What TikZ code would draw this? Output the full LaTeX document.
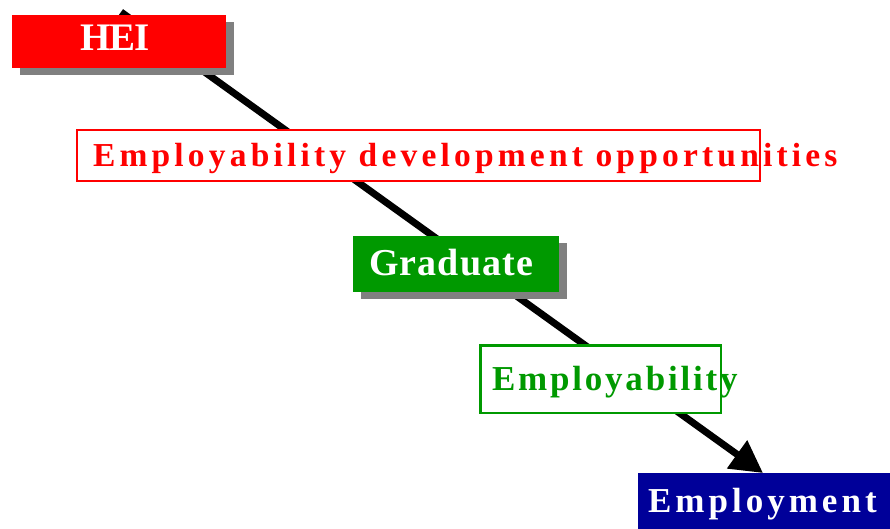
\documentclass[tikz,border=0pt]{standalone}
\usepackage{fontspec}
\setmainfont{Liberation Serif}
\usetikzlibrary{arrows.meta}
\definecolor{heired}{HTML}{FF0000}
\definecolor{gradgreen}{HTML}{009900}
\definecolor{empnavy}{HTML}{000099}
\definecolor{shade}{HTML}{808080}
\newcommand{\lbl}[2]{\fontsize{#1}{#1}\selectfont\bfseries\addfontfeatures{LetterSpace=#2}}
\begin{document}
\begin{tikzpicture}[x=1pt,y=-1pt,
  solidbox/.style={inner sep=0pt,outer sep=0pt,anchor=north west},
  shadowbox/.style={solidbox,fill=shade},
  outlinebox/.style={inner sep=0pt,outer sep=0pt,anchor=north west,fill=white},
  caption/.style={inner sep=0pt,outer sep=0pt,anchor=base west},
  flow/.style={line width=7pt,-{Triangle[length=32pt,width=33pt]}}]
\useasboundingbox (0,0) rectangle (890,529);
\fill[white] (0,0) rectangle (890,529);

% route from the institution down to employment
\coordinate (start) at (121,12);
\coordinate (finish) at (763,473);
\draw[flow] (start) -- (finish);

% HEI
\node[shadowbox,minimum width=214pt,minimum height=53pt] (heishadow) at (20,22) {};
\node[solidbox,fill=heired,minimum width=214pt,minimum height=53pt] (hei) at (12,15) {};
\node[caption,text=white] (heitext) at (80,51) {\lbl{39}{-2}HEI};

% development opportunities
\node[outlinebox,draw=heired,line width=2pt,minimum width=683pt,minimum height=51pt] (edo) at (77,130) {};
\node[caption,text=heired] (edotext) at (93,167) {\lbl{33.5}{12.5}Employability development opportunities};

% Graduate
\node[shadowbox,minimum width=206pt,minimum height=56pt] (gradshadow) at (361,243) {};
\node[solidbox,fill=gradgreen,minimum width=206pt,minimum height=56pt] (grad) at (353,236) {};
\node[caption,text=white] (gradtext) at (369,275) {\lbl{38}{3}Graduate};

% Employability
\node[outlinebox,draw=gradgreen,line width=2.5pt,minimum width=240.5pt,minimum height=67.5pt] (empl) at (480.25,345.25) {};
\node[caption,text=gradgreen] (empltext) at (492,390) {\lbl{35}{8}Employability};

% Employment
\node[solidbox,fill=empnavy,minimum width=252pt,minimum height=56pt] (job) at (638,473) {};
\node[caption,text=white] (jobtext) at (648,512) {\lbl{35}{11.5}Employment};
\end{tikzpicture}
\end{document}
